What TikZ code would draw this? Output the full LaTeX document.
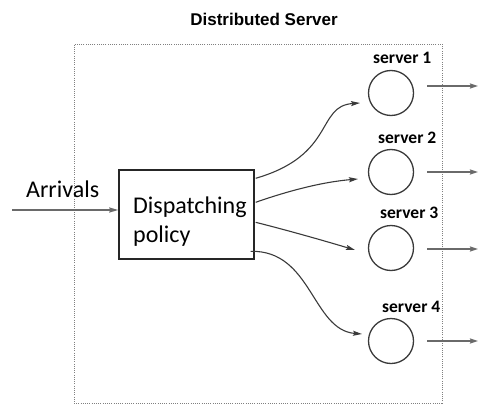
\documentclass[tikz,border=0pt]{standalone}
\usepackage{fontspec}
\setmainfont{Carlito}
\newfontfamily\titlefont{Liberation Sans}
\usetikzlibrary{arrows.meta,calc}
\definecolor{linegray}{HTML}{3A3A3A}
\definecolor{outgray}{HTML}{6A6A6A}
\begin{document}
\begin{tikzpicture}[x=1pt,y=-1pt,
  conn/.style={draw=linegray,line width=1.1pt,-{Stealth[length=9pt,width=5pt,inset=1.5pt]}},
  outarrow/.style={draw=outgray,line width=1.8pt,-{Stealth[length=8pt,width=5pt,inset=1pt]}},
  srv/.style={circle,draw=linegray,line width=1.3pt,minimum size=45pt,inner sep=0pt},
  srvlabel/.style={anchor=base west,inner sep=0pt,font=\fontsize{17.5}{20}\selectfont\bfseries},
  plain/.style={anchor=base west,inner sep=0pt}]
\useasboundingbox (0,0) rectangle (478,406);

% enclosing distributed server region
\node[draw=gray,dash pattern=on 1pt off 1.2pt,line width=0.8pt,minimum width=368pt,minimum height=359pt,inner sep=0pt]
  (region) at (258,223.5) {};
\node[anchor=base,inner sep=0pt,font=\titlefont\bfseries\fontsize{17}{20}\selectfont] (title) at (264,26) {Distributed Server};

% dispatcher
\node[draw=black!85,line width=1.4pt,minimum width=135pt,minimum height=89pt,inner sep=0pt] (disp) at (186.5,214.5) {};
\node[plain,font=\fontsize{24}{29}\selectfont] (disp1) at (133,213) {Dispatching};
\node[plain,font=\fontsize{24}{29}\selectfont] (disp2) at (133,242) {policy};

% arrivals
\node[plain,font=\fontsize{24}{28}\selectfont] (arrlabel) at (26,197) {Arrivals};
\coordinate (arrin) at (12,210);
\draw[draw=outgray,line width=1.6pt,-{Stealth[length=9pt,width=5pt,inset=1pt]}] (arrin) -- (disp.west|-arrin);

% servers
\node[srv] (s1) at (391,93) {};
\node[srv] (s2) at (391,172) {};
\node[srv] (s3) at (391,248) {};
\node[srv] (s4) at (391,341) {};
\node[srvlabel] (l1) at (373,64) {server 1};
\node[srvlabel] (l2) at (378,143) {server 2};
\node[srvlabel] (l3) at (380,218) {server 3};
\node[srvlabel] (l4) at (382,312) {server 4};

% dispatch connectors
\coordinate (d1) at ($(disp.north east)+(1,9)$);
\coordinate (d2) at ($(disp.north east)+(1,33)$);
\coordinate (d3) at ($(disp.north east)+(1,53)$);
\coordinate (d4) at ($(disp.north east)+(-4,82)$);
\coordinate (i1) at ($(s1.center)+(-31,10)$);
\coordinate (i2) at ($(s2.center)+(-33,7)$);
\coordinate (i3) at ($(s3.center)+(-36,2)$);
\coordinate (i4) at ($(s4.center)+(-29,-7)$);
\draw[conn] (d1) .. controls (336,155) and (316,106) .. (i1);
\draw[conn] (d2) .. controls (288,191) and (322,182) .. (i2);
\draw[conn] (d3) .. controls (290,231) and (325,241) .. (i3);
\draw[conn] (d4) .. controls (312,250) and (312,330) .. (i4);

% departures
\coordinate (o1) at (478,86);
\coordinate (o2) at (478,172);
\coordinate (o3) at (478,249);
\coordinate (o4) at (478,341);
\draw[outarrow] ($(s1.center)+(36,-7)$) -- (o1);
\draw[outarrow] ($(s2.center)+(36,0)$) -- (o2);
\draw[outarrow] ($(s3.center)+(36,1)$) -- (o3);
\draw[outarrow] ($(s4.center)+(36,0)$) -- (o4);
\end{tikzpicture}
\end{document}
